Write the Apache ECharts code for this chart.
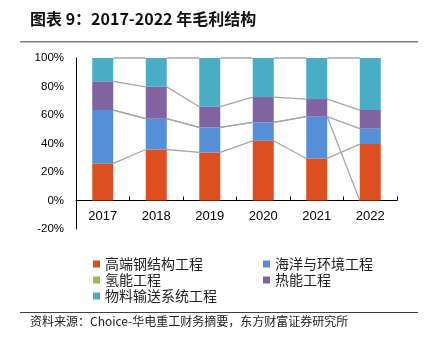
<!DOCTYPE html>
<html><head><meta charset="utf-8">
<script src="https://cdn.jsdelivr.net/npm/echarts@6/dist/echarts.min.js"></script>
<style>html,body{margin:0;padding:0;background:#fff}#c{width:432px;height:345px}</style>
</head><body><div id="c"></div>
<script>
var years = ['2017','2018','2019','2020','2021','2022'];
var steelHigh = [26.0, 35.8, 33.7, 41.9, 29.5, 39.6];
var marineEnv = [37.5, 21.6, 17.6, 12.9, 29.3, 10.8];
var hydrogen  = [0, 0, 0, 0, 0, null];
var thermal   = [20.1, 22.4, 14.5, 17.8, 12.4, 13.1];
var conveyor  = [16.4, 20.2, 34.2, 27.4, 28.8, 36.5];
var seriesNames = ['高端钢结构工程','海洋与环境工程','氢能工程','热能工程','物料输送系统工程'];
var colors = ['#DD4F1F','#5590D6','#9BBB59','#8064A2','#4BACC6'];
var yTicks = [-20, 0, 20, 40, 60, 80, 100];

var all = [steelHigh, marineEnv, hydrogen, thermal, conveyor];
// cumulative tops for series lines (blank value -> line drops to 0)
var cum = [];
var running = years.map(function(){return 0;});
all.forEach(function(arr){
  var tops = arr.map(function(v,i){
    if (v === null) return 0;
    running[i] += v; return running[i];
  });
  cum.push(tops);
});
var BW = 21;
var lineData = [];
cum.forEach(function(tops){
  for (var i=0;i<tops.length-1;i++) lineData.push([i, tops[i], tops[i+1]]);
});

var series = all.map(function(arr, k){
  return {name: seriesNames[k], type:'bar', stack:'s', barWidth:BW, data: arr,
    itemStyle:{color: colors[k]}, silent:true};
});
series.push({
  type:'custom', coordinateSystem:'cartesian2d', data: lineData, silent:true,
  encode:{x:0, y:[1,2]},
  renderItem: function(params, api){
    var i = api.value(0);
    var p1 = api.coord([i, api.value(1)]);
    var p2 = api.coord([i+1, api.value(2)]);
    return {type:'line', shape:{x1:p1[0]+BW/2, y1:p1[1], x2:p2[0]-BW/2, y2:p2[1]},
      style:{stroke:'#A6A6A6', lineWidth:1.3}};
  }
});

var chart = echarts.init(document.getElementById('c'), null, {renderer:'canvas'});
var legendText = {fontSize:14, color:'#222', fontFamily:'Noto Sans CJK SC', lineHeight:16};
chart.setOption({
  animation:false,
  grid:{left:76, top:58, width:321, height:171},
  xAxis:{type:'category', data:years,
    axisLine:{onZero:true, lineStyle:{color:'#000', width:1}},
    axisTick:{show:true, inside:true, length:4, lineStyle:{color:'#000'}},
    axisLabel:{fontSize:13, color:'#000', fontFamily:'Liberation Sans', margin:-19}},
  yAxis:{type:'value', min:-20, max:100, interval:20,
    axisLine:{show:true, lineStyle:{color:'#000', width:1}},
    axisTick:{show:false},
    splitLine:{show:false},
    axisLabel:{fontSize:11.5, color:'#000', fontFamily:'Liberation Sans', margin:12,
      formatter:function(v){return v+'%';}}},
  legend:[
    {left:88, top:251, orient:'vertical', itemGap:0, itemWidth:7, itemHeight:7,
     icon:'rect', textStyle:legendText, selectedMode:false,
     data:[seriesNames[0], seriesNames[2], seriesNames[4]]},
    {left:258, top:251, orient:'vertical', itemGap:0, itemWidth:7, itemHeight:7,
     icon:'rect', textStyle:legendText, selectedMode:false,
     data:[seriesNames[1], seriesNames[3]]}
  ],
  graphic:[
    {type:'text', left:30, top:11, style:{text:'图表 9：2017-2022 年毛利结构',
      font:'bold 16px "Noto Sans CJK SC"', fill:'#111'}},
    {type:'rect', shape:{x:20, y:41, width:398, height:1.5}, style:{fill:'#7F7F7F'}},
    {type:'rect', shape:{x:20, y:312, width:398, height:1}, style:{fill:'#404040'}},
    {type:'text', left:30, top:315, style:{text:'资料来源：Choice-华电重工财务摘要，东方财富证券研究所',
      font:'12px "Noto Sans CJK SC"', fill:'#222'}}
  ],
  series: series
});
</script></body></html>
